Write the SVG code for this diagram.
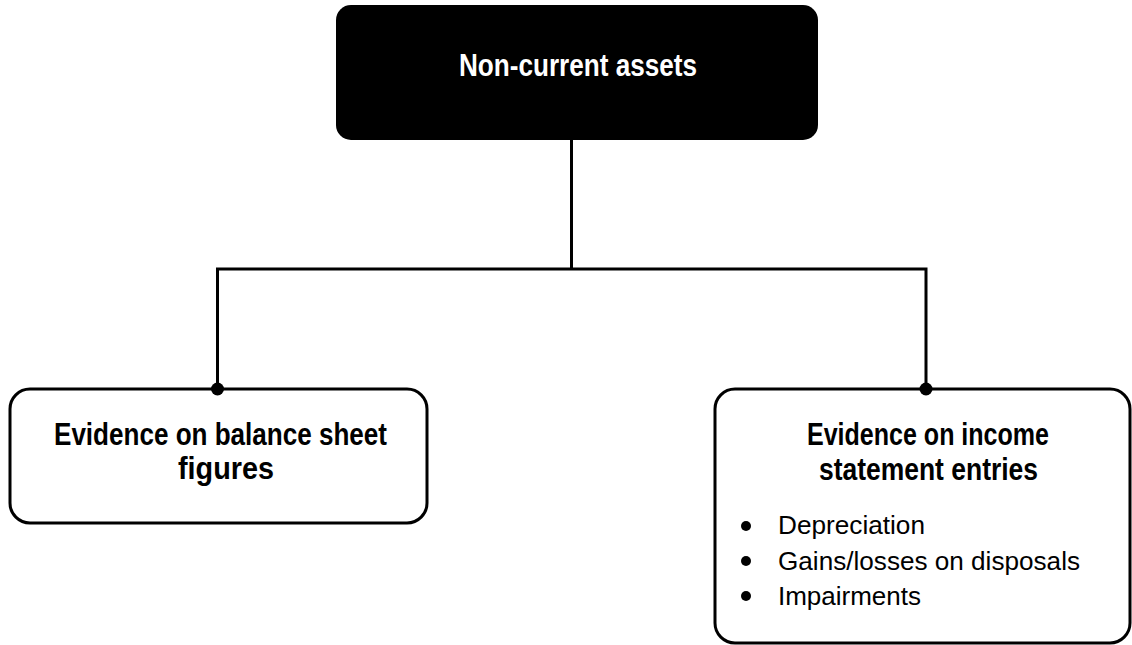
<svg xmlns="http://www.w3.org/2000/svg" width="1132" height="645" viewBox="0 0 1132 645">
<style>
.box{fill:#fff;stroke:#000;stroke-width:3}
.conn{fill:none;stroke:#000;stroke-width:3}
.t{font-family:"Liberation Sans",Arial,sans-serif;text-anchor:middle;font-weight:bold;font-size:31px;fill:#000}
.b{font-family:"Liberation Sans",Arial,sans-serif;font-size:26px;fill:#000}
</style>
<rect width="1132" height="645" fill="#fff"/>
<g id="node-top">
<rect x="336" y="5" width="482" height="135" rx="15" fill="#000"/>
<text class="t" x="578" y="76" style="fill:#fff" textLength="238" lengthAdjust="spacingAndGlyphs">Non-current assets</text>
</g>
<g id="node-balance">
<rect class="box" x="10" y="389" width="417" height="134" rx="20"/>
<text class="t" x="220.5" y="445" textLength="333" lengthAdjust="spacingAndGlyphs">Evidence on balance sheet</text>
<text class="t" x="226" y="479" textLength="96" lengthAdjust="spacingAndGlyphs">figures</text>
</g>
<g id="node-income">
<rect class="box" x="715" y="389" width="415" height="254" rx="20"/>
<text class="t" x="928" y="445" textLength="242" lengthAdjust="spacingAndGlyphs">Evidence on income</text>
<text class="t" x="928.5" y="480" textLength="219" lengthAdjust="spacingAndGlyphs">statement entries</text>
<circle cx="746" cy="526" r="5"/>
<circle cx="746" cy="561" r="5"/>
<circle cx="746" cy="596" r="5"/>
<text class="b" x="778" y="534" textLength="147" lengthAdjust="spacingAndGlyphs">Depreciation</text>
<text class="b" x="778" y="570" textLength="302" lengthAdjust="spacingAndGlyphs">Gains/losses on disposals</text>
<text class="b" x="778" y="605" textLength="143" lengthAdjust="spacingAndGlyphs">Impairments</text>
</g>
<g id="connectors">
<path class="conn" d="M571.5,140 V269 M217.5,389 V269 H926 V389"/>
<circle cx="217.5" cy="389" r="6.5"/>
<circle cx="926" cy="389" r="6.5"/>
</g>
</svg>
